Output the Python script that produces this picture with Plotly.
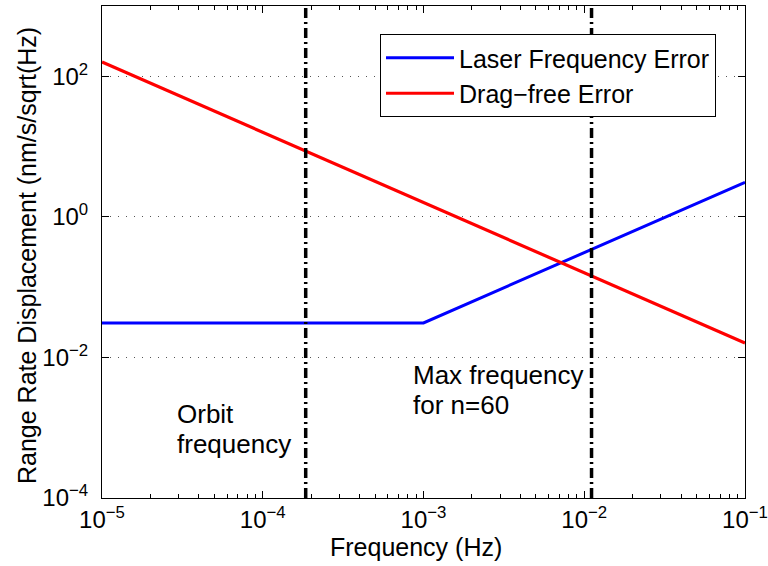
import plotly.graph_objects as go

# ---- data ----
freq_laser = [1e-5, 1e-3, 1e-1]
laser_err = [0.031, 0.031, 3.1]
freq_drag = [1e-5, 1e-1]
drag_err = [160, 0.016]
orbit_freq = 1.85e-4
max_freq = 0.0111
y_span = [1e-4, 1e3]

x_tickvals = [1e-5, 1e-4, 1e-3, 1e-2, 1e-1]
x_ticktext = ["10<sup>−5</sup>", "10<sup>−4</sup>", "10<sup>−3</sup>", "10<sup>−2</sup>", "10<sup>−1</sup>"]
y_tickvals = [1e-4, 1e-2, 1e0, 1e2]
y_ticktext = ["10<sup>−4</sup>", "10<sup>−2</sup>", "10<sup>0</sup>", "10<sup>2</sup>"]

FONT = "Liberation Sans, Arial, Helvetica, sans-serif"
L, R, T, B = 102, 745, 6, 498
W, H = 768, 566


def px_x(p):
    return (p - L) / (R - L)


def px_y(p):
    return (B - p) / (B - T)


fig = go.Figure()
fig.add_trace(go.Scatter(x=freq_laser, y=laser_err, mode="lines", name="Laser Frequency Error",
                         line=dict(color="#0000ff", width=3)))
fig.add_trace(go.Scatter(x=freq_drag, y=drag_err, mode="lines", name="Drag−free Error",
                         line=dict(color="#ff0000", width=3.2)))
for fx in [orbit_freq, max_freq]:
    fig.add_trace(go.Scatter(x=[fx, fx], y=y_span, mode="lines", showlegend=False,
                             line=dict(color="black", width=3.5, dash="10px,4px,2px,4px")))

ann_font = dict(family=FONT, size=26, color="black")
anns = [
    ("Max frequency", 411, 375),
    ("for n=60", 411, 405),
    ("Orbit", 175, 414),
    ("frequency", 175, 444),
]
for txt, ax, ay in anns:
    fig.add_annotation(text=txt, xref="paper", yref="paper", x=px_x(ax), y=px_y(ay),
                       xanchor="left", yanchor="middle", showarrow=False, font=ann_font)

# axis titles
fig.add_annotation(text="Frequency (Hz)", xref="paper", yref="paper", x=px_x(416), y=px_y(547),
                   xanchor="center", yanchor="middle", showarrow=False,
                   font=dict(family=FONT, size=25, color="black"))
fig.add_annotation(text="Range Rate Displacement (nm/s/sqrt(Hz)", xref="paper", yref="paper",
                   x=px_x(27), y=px_y(256), textangle=-90,
                   xanchor="center", yanchor="middle", showarrow=False,
                   font=dict(family=FONT, size=25, color="black"))

fig.update_layout(
    width=W, height=H,
    margin=dict(l=L, r=W - R, t=T, b=H - B),
    paper_bgcolor="white", plot_bgcolor="white",
    font=dict(family=FONT, color="black"),
    legend=dict(x=px_x(716), y=px_y(34), xanchor="right", yanchor="top",
                bgcolor="white", bordercolor="black", borderwidth=1, itemwidth=68,
                font=dict(family=FONT, size=25), tracegroupgap=0),
    showlegend=True,
)
fig.update_xaxes(type="log", range=[-5, -1], tickmode="array", tickvals=x_tickvals, ticktext=x_ticktext,
                 ticks="inside", ticklen=7, tickcolor="black", showline=True, linecolor="black",
                 linewidth=1, mirror="ticks", showgrid=False, zeroline=False, automargin=False,
                 tickfont=dict(family=FONT, size=24), ticklabelstandoff=0,
                 minor=dict(ticks="inside", ticklen=4, dtick="D1", tickcolor="black", showgrid=False))
fig.update_yaxes(type="log", range=[-4, 3], tickmode="array", tickvals=y_tickvals, ticktext=y_ticktext,
                 ticks="inside", ticklen=7, tickcolor="black", showline=True, linecolor="black",
                 linewidth=1, mirror="ticks", showgrid=True, gridcolor="#555555", gridwidth=1,
                 griddash="1px,7px", zeroline=False, automargin=False,
                 tickfont=dict(family=FONT, size=24), ticklabelstandoff=8)

fig.write_html("out.html", config={"displayModeBar": False},
               post_script="document.body.style.margin='0';document.body.style.padding='0';")
